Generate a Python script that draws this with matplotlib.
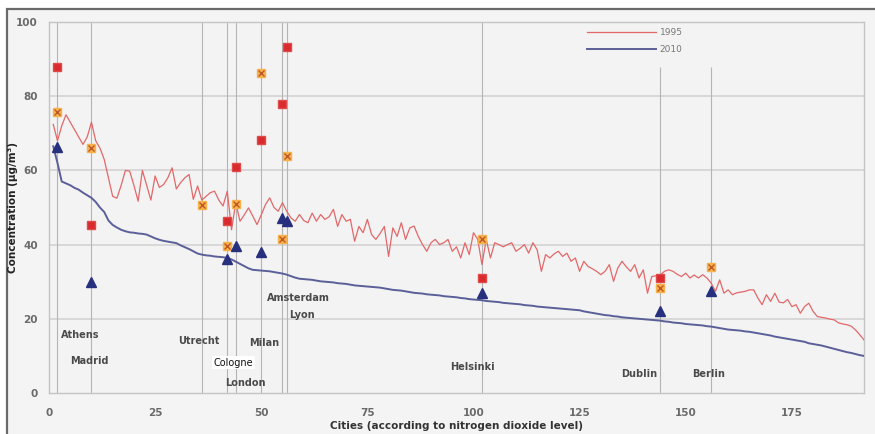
import numpy as np
import matplotlib
matplotlib.use("Agg")
import matplotlib.pyplot as plt
from matplotlib.patches import Rectangle

# ------------------ data ------------------

# 1995 level per city (cities ranked 1..192)
no2_1995 = [
    72.4, 68.0, 72.0, 75.0, 73.0, 71.0, 69.0, 67.0, 69.0, 73.0,
    68.0, 66.0, 63.0, 58.0, 53.0, 52.5, 56.0, 60.0, 59.8, 56.0,
    51.7, 60.0, 56.0, 52.0, 58.5, 55.4, 56.2, 58.0, 60.7, 55.0,
    56.7, 58.0, 58.9, 52.2, 55.8, 52.0, 53.0, 54.0, 54.4, 52.0,
    50.4, 54.4, 44.0, 51.3, 46.3, 48.0, 49.9, 47.7, 45.4, 48.0,
    50.8, 52.6, 50.0, 49.0, 51.3, 49.0, 47.2, 46.3, 48.1, 46.5,
    45.9, 48.5, 46.3, 48.1, 46.8, 47.5, 49.5, 44.9, 48.1, 46.3,
    46.8, 40.9, 44.9, 43.2, 46.8, 42.7, 41.4, 43.0, 44.9, 36.8,
    44.5, 42.2, 45.9, 41.4, 44.5, 45.0, 42.2, 40.0, 38.2, 40.5,
    41.4, 40.0, 40.5, 41.4, 38.2, 39.4, 36.4, 40.5, 37.3, 43.2,
    41.4, 34.6, 41.4, 36.4, 40.5, 40.0, 39.4, 40.0, 40.5, 38.2,
    39.0, 40.0, 37.7, 40.5, 38.6, 32.8, 37.3, 36.4, 37.5, 38.2,
    36.8, 37.7, 35.5, 36.4, 32.8, 35.5, 34.1, 33.5, 32.8, 31.9,
    32.8, 34.6, 30.1, 33.7, 35.5, 34.0, 32.8, 34.6, 31.0, 33.2,
    26.9, 31.4, 31.6, 31.8, 32.8, 33.2, 32.8, 32.0, 31.4, 32.3,
    31.0, 31.8, 31.0, 31.9, 31.0, 29.6, 27.4, 30.5, 26.9, 27.8,
    26.5, 27.0, 27.2, 27.4, 27.8, 27.8, 25.6, 23.8, 26.5, 24.7,
    26.9, 24.5, 24.3, 25.2, 23.3, 23.8, 21.5, 23.3, 24.2, 22.0,
    20.6, 20.4, 20.2, 19.9, 19.7, 18.9, 18.6, 18.4, 18.0, 17.0,
    15.7, 14.3,
]

# 2010 level per city
no2_2010 = [
    66.5, 62.0, 57.0, 56.5, 56.0, 55.3, 54.8, 54.0, 53.3, 52.6,
    51.5, 50.0, 48.8, 46.5, 45.3, 44.6, 44.0, 43.6, 43.3, 43.2,
    43.0, 42.9, 42.7, 42.2, 41.7, 41.3, 41.0, 40.8, 40.6, 40.4,
    39.8, 39.3, 38.8, 38.2, 37.6, 37.3, 37.1, 37.0, 36.8, 36.7,
    36.6, 36.4, 36.0, 35.4, 34.8, 34.2, 33.6, 33.2, 33.1, 33.0,
    32.9, 32.8, 32.6, 32.4, 32.2, 31.9, 31.5, 31.1, 30.8, 30.7,
    30.6, 30.5, 30.3, 30.1, 30.0, 29.9, 29.8, 29.6, 29.5, 29.4,
    29.2, 29.0, 28.9, 28.8, 28.7, 28.6, 28.5, 28.4, 28.2, 28.0,
    27.8, 27.7, 27.6, 27.4, 27.2, 27.0, 26.9, 26.8, 26.6, 26.5,
    26.4, 26.3, 26.1, 26.0, 25.9, 25.8, 25.6, 25.5, 25.3, 25.2,
    25.1, 25.0, 24.8, 24.7, 24.6, 24.5, 24.3, 24.2, 24.1, 24.0,
    23.9, 23.7, 23.6, 23.5, 23.3, 23.2, 23.1, 23.0, 22.9, 22.8,
    22.7, 22.6, 22.5, 22.4, 22.3, 22.0, 21.8, 21.6, 21.4, 21.2,
    21.0, 20.9, 20.7, 20.6, 20.4, 20.3, 20.2, 20.1, 20.0, 19.9,
    19.8, 19.7, 19.6, 19.5, 19.3, 19.2, 19.0, 18.9, 18.8, 18.6,
    18.5, 18.4, 18.3, 18.2, 18.0, 17.9, 17.7, 17.5, 17.3, 17.1,
    17.0, 16.9, 16.8, 16.6, 16.5, 16.3, 16.1, 15.9, 15.7, 15.5,
    15.2, 15.0, 14.8, 14.6, 14.4, 14.2, 14.0, 13.8, 13.4, 13.2,
    13.0, 12.8, 12.5, 12.2, 11.9, 11.6, 11.3, 11.0, 10.8, 10.5,
    10.2, 10.0,
]

# highlighted cities: rank positions
sq_x = [2, 10, 42, 44, 50, 55, 56, 102, 144]
sq_y = [88, 45.4, 46.3, 60.8, 68.2, 78, 93.2, 31, 31]

cross_x = [2, 10, 36, 42, 44, 50, 55, 56, 102, 144, 156]
cross_y = [75.8, 66, 50.8, 39.5, 51, 86.2, 41.6, 64, 41.6, 28.3, 34]

tri_x = [2, 10, 42, 44, 50, 55, 56, 102, 144, 156]
tri_y = [66.2, 30, 36, 39.5, 38, 47.3, 46.3, 27, 22, 27.4]

city_lines = [2, 10, 36, 42, 44, 50, 55, 56, 102, 144, 156]
city_line_top = [100, 100, 100, 100, 100, 100, 100, 100, 100, 88, 88]

city_names = ["Athens", "Madrid", "Utrecht", "Cologne", "London", "Milan",
              "Amsterdam", "Lyon", "Helsinki", "Dublin", "Berlin"]
name_x = [7.3, 9.5, 35.3, 43.5, 46.2, 50.8, 58.8, 59.5, 99.7, 139, 155.3]
name_y = [15.7, 8.5, 14.1, 8.2, 2.8, 13.4, 25.7, 21.1, 7.1, 5.1, 5.1]

x_ticks = [0, 25, 50, 75, 100, 125, 150, 175]
y_ticks = [0, 20, 40, 60, 80, 100]

# ------------------ figure ------------------

fig = plt.figure(figsize=(8.75, 4.34), dpi=100)
fig.patch.set_facecolor("white")
# outer frame like the original picture
fig.add_artist(Rectangle((7 / 875, -0.05), 1.0, 1.05 - 9 / 434,
                         transform=fig.transFigure, facecolor="#f4f4f4",
                         edgecolor="#6a6a6a", linewidth=1.6, zorder=0))

ax = fig.add_axes([49 / 875, 41 / 434, 815 / 875, 371 / 434])
ax.set_facecolor("#f3f3f3")

ranks = np.arange(1, len(no2_1995) + 1)

# grid + city guide lines
for yv in y_ticks[1:]:
    ax.axhline(yv, color="#d6d6d6", lw=1.3, zorder=1)
ax.vlines(city_lines, 0, city_line_top, color="#b4b4b4", lw=0.8, zorder=1)

ax.plot(ranks, no2_1995, color="#e2686a", lw=0.9, label="1995", zorder=3)
ax.plot(ranks[:len(no2_2010)], no2_2010, color="#5b5f98", lw=1.4, label="2010", zorder=3)

ax.plot(sq_x, sq_y, "s", ms=6, color="#d92a2e", mec="#e04a4a", zorder=5, ls="none")
ax.plot(cross_x, cross_y, "s", ms=6, color="#f7b24a", mec="#f7b24a", zorder=5, ls="none")
ax.plot(cross_x, cross_y, "x", ms=4, color="#c0582a", mew=1.0, zorder=6, ls="none")
ax.plot(tri_x, tri_y, "^", ms=6.5, color="#27307e", zorder=5, ls="none")

for name, nx, ny in zip(city_names, name_x, name_y):
    if name == "Cologne":
        ax.text(nx, ny, name, ha="center", va="center", fontsize=7, color="#111111",
                bbox=dict(boxstyle="square,pad=0.15", fc="white", ec="none"), zorder=7)
    else:
        ax.text(nx, ny, name, ha="center", va="center", fontsize=7,
                fontweight="bold", color="#4a4a4a", zorder=7)

ax.set_xlim(0, 192)
ax.set_ylim(0, 100)
ax.set_xticks(x_ticks)
ax.set_yticks(y_ticks)
ax.tick_params(length=0, labelsize=7.5, labelcolor="#6a6a6a")
ax.tick_params(axis="x", pad=11)
ax.tick_params(axis="y", pad=8)
for lab in ax.get_xticklabels() + ax.get_yticklabels():
    lab.set_fontweight("bold")
for side in ["left", "right", "top", "bottom"]:
    ax.spines[side].set_color("#c4c4c4")
    ax.spines[side].set_linewidth(1.0)

ax.set_xlabel("Cities (according to nitrogen dioxide level)", fontsize=7.5,
              fontweight="bold", color="#333333", labelpad=2)
ax.set_ylabel("Concentration (µg/m³)", fontsize=7.5, fontweight="bold",
              color="#222222")
ax.yaxis.set_label_coords(-0.038, 0.5)

leg = ax.legend(loc="upper left", bbox_to_anchor=(0.655, 0.995), frameon=False,
                fontsize=6.5, handlelength=7.6, handletextpad=0.4,
                labelspacing=0.9, borderpad=0)
for t in leg.get_texts():
    t.set_color("#777777")

fig.savefig("out.png", dpi=100)
